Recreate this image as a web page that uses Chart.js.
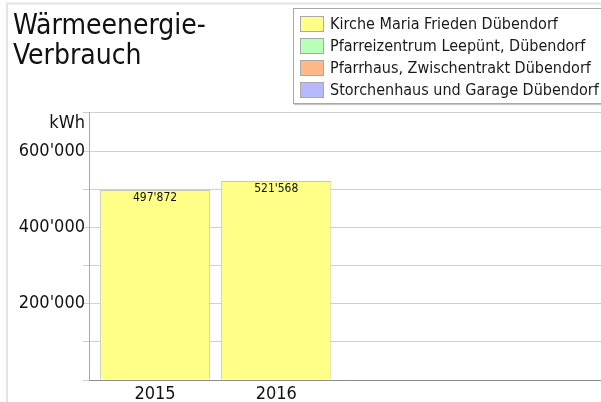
<!DOCTYPE html>
<html>
<head>
<meta charset="utf-8">
<script src="https://cdn.jsdelivr.net/npm/chart.js@4"></script>
<style>
  body { margin: 0; background: #fff; }
  #frame { position: absolute; left: 6px; top: 2px; width: 595px; height: 400px;
           border-left: 2px solid #e4e4e4; border-top: 3px solid #ececec; box-sizing: border-box; }
  #wrap { position: absolute; left: 0; top: 0; width: 601px; height: 402px; }
  #legende { position: absolute; left: 293px; top: 8px; width: 310px; height: 96px; box-sizing: border-box;
             border: 1px solid #a8a8a8; box-shadow: 1px 1px 1px #c8c8c8; background: #fff;
             font: 16px 'DejaVu Sans Condensed', 'DejaVu Sans', sans-serif; color: #1a1a1a; padding-top: 6px; }
  #legende div { height: 22px; line-height: 17px; white-space: nowrap; }
  #legende span { display: inline-block; width: 22px; height: 14px; border: 1px solid #a8a8a8;
                  vertical-align: top; margin: 1px 6px 0 6px; }
</style>
</head>
<body>
<div id="frame"></div>
<div id="wrap"><canvas id="grafikWaerme" width="601" height="402"></canvas></div>
<div id="legende"></div>
<script>
// Daten
const jahre = [2015, 2016];
const kirche = [497872, 521568];
const pfarreizentrum = [null, null];
const pfarrhaus = [null, null];
const storchenhaus = [null, null];
const yTicks = [200000, 400000, 600000];

const schrift = "'DejaVu Sans Condensed', 'DejaVu Sans', sans-serif";

function format(v) {
    return String(v).replace(/\B(?=(\d{3})+(?!\d))/g, "'");
}

// Werte oben in den Balken + "kWh"
const beschriftung = {
    id: 'beschriftung',
    afterDatasetsDraw(chart) {
        const ctx = chart.ctx;
        ctx.save();
        ctx.fillStyle = '#111';
        ctx.textAlign = 'center';
        ctx.textBaseline = 'middle';
        ctx.font = '12px ' + schrift;
        chart.getDatasetMeta(0).data.forEach((bar, i) => {
            ctx.fillText(format(kirche[i]), bar.x, bar.y + 8);
        });
        const y = chart.scales.y;
        ctx.font = '18px ' + schrift;
        ctx.textAlign = 'right';
        ctx.fillText('kWh', y.right - 4, chart.chartArea.top + 10);
        ctx.restore();
    }
};

const serie = (label, data, farbe) => ({
    label: label,
    data: jahre.map((j, i) => ({ x: j, y: data[i] })),
    backgroundColor: farbe,
    borderColor: '#c8c8b4',
    borderWidth: 1,
    borderSkipped: 'bottom',
    barPercentage: 0.91,
    categoryPercentage: 1
});

const ctxWaerme = document.getElementById('grafikWaerme').getContext('2d');
const grafikWaerme = new Chart(ctxWaerme, {
    type: 'bar',
    data: {
        datasets: [
            serie('Kirche Maria Frieden Dübendorf', kirche, '#ffff88'),
            serie('Pfarreizentrum Leepünt, Dübendorf', pfarreizentrum, '#b8ffb8'),
            serie('Pfarrhaus, Zwischentrakt Dübendorf', pfarrhaus, '#ffb888'),
            serie('Storchenhaus und Garage Dübendorf', storchenhaus, '#b8b8ff')
        ]
    },
    options: {
        responsive: false,
        animation: false,
        layout: { padding: { left: 13, right: 0, top: 0, bottom: 0 } },
        plugins: {
            legend: { display: false },
            tooltip: { enabled: false },
            title: {
                display: true,
                text: ['Wärmeenergie-', 'Verbrauch'],
                align: 'start',
                color: '#111',
                font: { family: schrift, size: 28, weight: 'normal', lineHeight: 1.07 },
                padding: { top: 12, bottom: 41 }
            }
        },
        scales: {
            x: {
                type: 'linear',
                stacked: true,
                offset: false,
                bounds: 'data',
                min: 2014.455,
                max: 2018.68,
                afterBuildTicks: (scale) => { scale.ticks = jahre.map(j => ({ value: j })); },
                afterFit: (scale) => { scale.height = 22; },
                grid: { display: false },
                border: { color: '#8c8c8c' },
                ticks: {
                    color: '#111',
                    font: { family: schrift, size: 18 },
                    padding: -4,
                    callback: (v) => String(v)
                }
            },
            y: {
                stacked: true,
                min: 0,
                max: 700000,
                afterFit: (scale) => { scale.width = 76; },
                grid: { color: '#cfcfcf', tickLength: 6 },
                border: { color: '#a8a8a8' },
                ticks: {
                    stepSize: 100000,
                    color: '#111',
                    padding: -2,
                    font: { family: schrift, size: 18 },
                    callback: (v) => yTicks.includes(v) ? format(v) : ''
                }
            }
        }
    },
    plugins: [beschriftung]
});

// Legende
const legende = document.getElementById('legende');
grafikWaerme.data.datasets.forEach((ds) => {
    const zeile = document.createElement('div');
    const box = document.createElement('span');
    box.style.background = ds.backgroundColor;
    zeile.appendChild(box);
    zeile.appendChild(document.createTextNode(ds.label));
    legende.appendChild(zeile);
});
</script>
</body>
</html>
